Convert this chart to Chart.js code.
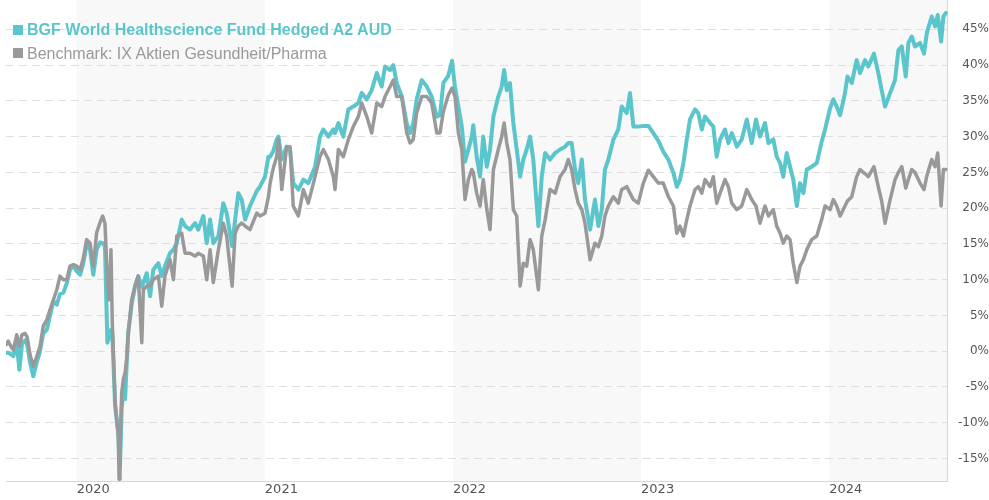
<!DOCTYPE html>
<html>
<head>
<meta charset="utf-8">
<script src="https://cdn.jsdelivr.net/npm/chart.js@4.4.1/dist/chart.umd.min.js"></script>
<style>
  html, body { margin: 0; padding: 0; background: #fff; }
  #wrap { position: relative; width: 989px; height: 500px; overflow: hidden; }
  #legend { position: absolute; left: 13px; top: 18px; font-family: "Liberation Sans", Arial, sans-serif; font-size: 16px; line-height: 23.5px; }
  .item { display: flex; align-items: center; white-space: nowrap; }
  .sq { display: inline-block; width: 10px; height: 10px; margin-right: 4px; }
</style>
</head>
<body>
<div id="wrap">
  <canvas id="chart"></canvas>
  <div id="legend">
    <div class="item" style="color:#5bc5cc;font-weight:bold"><span class="sq" style="background:#5bc5cc"></span>BGF World Healthscience Fund Hedged A2 AUD</div>
    <div class="item" style="color:#999"><span class="sq" style="background:#999"></span>Benchmark: IX Aktien Gesundheit/Pharma</div>
  </div>
</div>
<script>
// time axis in decimal years, values in % performance
const years = [
  2019.624, 2019.636, 2019.654, 2019.663, 2019.681, 2019.695, 2019.709, 2019.725, 2019.736, 2019.752,
  2019.769, 2019.787, 2019.805, 2019.822, 2019.841, 2019.858, 2019.876, 2019.894, 2019.911, 2019.929,
  2019.947, 2019.964, 2019.982, 2020.000, 2020.018, 2020.035, 2020.053, 2020.071, 2020.088, 2020.106,
  2020.124, 2020.138, 2020.150, 2020.163, 2020.173, 2020.182, 2020.189, 2020.204, 2020.221, 2020.225,
  2020.230, 2020.239, 2020.248, 2020.257, 2020.266, 2020.274, 2020.292, 2020.310, 2020.327, 2020.346,
  2020.354, 2020.372, 2020.390, 2020.407, 2020.434, 2020.452, 2020.469, 2020.496, 2020.514, 2020.532,
  2020.558, 2020.576, 2020.602, 2020.629, 2020.646, 2020.673, 2020.691, 2020.709, 2020.726, 2020.753,
  2020.779, 2020.797, 2020.826, 2020.842, 2020.859, 2020.877, 2020.895, 2020.921, 2020.957, 2020.974,
  2021.001, 2021.019, 2021.028, 2021.045, 2021.063, 2021.072, 2021.090, 2021.116, 2021.134, 2021.151,
  2021.178, 2021.205, 2021.231, 2021.267, 2021.293, 2021.311, 2021.338, 2021.364, 2021.373, 2021.391,
  2021.417, 2021.444, 2021.470, 2021.497, 2021.515, 2021.542, 2021.568, 2021.595, 2021.621, 2021.639,
  2021.666, 2021.683, 2021.701, 2021.728, 2021.754, 2021.772, 2021.789, 2021.807, 2021.834, 2021.861,
  2021.887, 2021.914, 2021.931, 2021.949, 2021.975, 2021.995, 2022.011, 2022.029, 2022.047, 2022.064,
  2022.082, 2022.100, 2022.108, 2022.126, 2022.144, 2022.161, 2022.180, 2022.197, 2022.215, 2022.241,
  2022.259, 2022.272, 2022.286, 2022.303, 2022.321, 2022.339, 2022.357, 2022.374, 2022.392, 2022.410,
  2022.427, 2022.454, 2022.472, 2022.490, 2022.516, 2022.543, 2022.569, 2022.596, 2022.613, 2022.631,
  2022.649, 2022.666, 2022.685, 2022.702, 2022.729, 2022.755, 2022.773, 2022.791, 2022.808, 2022.826,
  2022.853, 2022.879, 2022.897, 2022.924, 2022.941, 2022.959, 2022.985, 2023.012, 2023.039, 2023.065,
  2023.092, 2023.118, 2023.145, 2023.172, 2023.190, 2023.207, 2023.225, 2023.243, 2023.260, 2023.287,
  2023.304, 2023.323, 2023.340, 2023.367, 2023.384, 2023.402, 2023.420, 2023.446, 2023.464, 2023.482,
  2023.509, 2023.535, 2023.562, 2023.588, 2023.611, 2023.632, 2023.659, 2023.677, 2023.703, 2023.721,
  2023.739, 2023.756, 2023.774, 2023.792, 2023.809, 2023.828, 2023.845, 2023.863, 2023.881, 2023.907,
  2023.934, 2023.960, 2023.978, 2024.005, 2024.022, 2024.040, 2024.058, 2024.084, 2024.097, 2024.120,
  2024.146, 2024.164, 2024.191, 2024.208, 2024.238, 2024.261, 2024.279, 2024.297, 2024.324, 2024.350,
  2024.368, 2024.386, 2024.407, 2024.421, 2024.439, 2024.456, 2024.483, 2024.504, 2024.519, 2024.545,
  2024.563, 2024.577, 2024.595, 2024.607, 2024.621
];

const fundValues = [
  -0.2, -0.2, -0.5, -0.7, 1.2, -2.6, 1.0, 1.5, 1.0, -1.6,
  -3.5, -1.6, 0.0, 2.5, 3.0, 5.0, 7.0, 6.5, 8.0, 8.2,
  9.5, 11.4, 11.9, 11.2, 10.7, 12.3, 15.0, 14.2, 10.7, 14.2,
  15.2, 15.1, 14.7, 1.2, 2.0, 3.0, 2.6, -7.7, -11.4, -14.0,
  -16.1, -8.0, -5.5, -6.7, -1.6, 2.6, 6.5, 9.1, 10.5, 9.0,
  9.5, 10.9, 7.7, 11.4, 12.3, 10.5, 11.9, 13.7, 14.2, 15.1,
  18.4, 17.5, 17.0, 17.9, 17.0, 18.9, 15.1, 18.4, 15.1, 16.1,
  20.7, 19.3, 14.7, 18.4, 22.1, 21.2, 18.4, 20.3, 22.4, 23.0,
  24.4, 27.2, 27.2, 28.0, 29.6, 30.0, 26.8, 28.6, 28.2, 23.5,
  22.6, 24.0, 23.5, 25.8, 30.0, 31.0, 30.0, 31.0, 30.5, 31.9,
  30.0, 33.8, 34.2, 34.7, 36.1, 35.2, 36.5, 38.9, 37.0, 39.8,
  39.3, 40.0, 37.5, 35.6, 31.9, 30.5, 31.9, 35.2, 37.9, 37.0,
  35.6, 32.8, 33.0, 37.5, 38.5, 40.6, 36.8, 34.2, 31.4, 26.5,
  28.2, 30.0, 31.6, 27.2, 24.4, 30.0, 25.8, 28.2, 32.8, 35.6,
  37.0, 39.3, 36.5, 37.5, 31.9, 28.2, 24.4, 26.8, 28.2, 30.0,
  26.8, 17.5, 24.4, 27.7, 26.8, 27.7, 28.2, 28.6, 29.1, 29.1,
  25.4, 23.5, 26.8, 21.2, 17.0, 21.2, 17.5, 19.8, 25.4, 26.8,
  29.6, 31.0, 34.2, 33.3, 36.1, 31.4, 31.4, 31.5, 31.5, 30.5,
  29.4, 27.9, 26.8, 24.9, 23.0, 24.0, 26.3, 29.6, 32.4, 33.8,
  33.3, 31.0, 32.8, 31.9, 31.4, 27.2, 29.6, 31.0, 29.1, 30.5,
  28.6, 29.6, 32.4, 29.1, 32.4, 30.0, 31.9, 29.1, 29.6, 27.2,
  26.3, 24.4, 27.7, 25.8, 24.0, 20.3, 23.5, 22.1, 25.4, 25.8,
  26.3, 29.3, 31.0, 34.0, 35.2, 34.2, 33.0, 36.1, 38.4, 37.5,
  40.7, 38.9, 40.7, 39.8, 41.6, 38.9, 36.5, 34.2, 36.1, 37.9,
  42.1, 42.6, 38.4, 43.1, 44.0, 42.6, 43.1, 41.6, 44.5, 46.8,
  45.4, 47.0, 43.3, 46.8, 47.3
];

const benchValues = [
  0.9, 1.4, 0.5, 0.2, 2.3, 0.7, 2.3, 2.5, 2.0, -0.5,
  -2.1, -0.8, 0.7, 3.5, 4.4, 5.8, 7.2, 8.6, 10.5, 10.0,
  10.0, 11.9, 12.1, 11.9, 11.4, 13.0, 15.6, 15.1, 11.9, 16.6,
  18.0, 18.9, 17.9, 10.0, 7.2, 14.2, 4.0, -7.0, -12.0, -17.9,
  -14.0, -5.8, -3.9, -3.0, -1.0, 2.6, 7.2, 9.1, 10.5, 1.2,
  8.6, 9.1, 9.1, 10.0, 10.5, 6.3, 10.5, 12.8, 10.0, 16.1,
  16.5, 13.7, 13.7, 13.3, 13.7, 13.3, 10.0, 14.2, 9.6, 14.2,
  17.9, 16.1, 9.1, 16.5, 17.5, 17.9, 17.5, 17.0, 19.3, 18.9,
  19.3, 21.6, 23.5, 25.6, 27.2, 29.6, 22.6, 28.6, 28.6, 20.3,
  18.9, 22.6, 20.7, 24.4, 27.2, 28.2, 26.8, 24.4, 22.6, 28.2,
  27.2, 29.6, 31.4, 32.8, 34.7, 32.8, 30.5, 34.7, 34.2, 35.6,
  37.0, 37.9, 35.6, 35.6, 30.5, 29.1, 29.6, 33.3, 35.6, 35.6,
  34.7, 30.5, 30.5, 33.5, 35.8, 36.8, 35.6, 30.5, 28.2, 21.2,
  24.0, 25.4, 25.0, 22.1, 20.3, 24.0, 19.8, 17.0, 25.4, 28.2,
  30.0, 31.9, 29.1, 26.8, 19.8, 18.9, 9.1, 12.3, 11.9, 15.6,
  14.2, 8.6, 16.1, 18.4, 22.6, 22.1, 24.4, 25.4, 26.8, 25.4,
  22.6, 20.7, 19.8, 17.9, 12.8, 15.1, 14.6, 16.1, 18.9, 20.3,
  21.6, 20.7, 22.6, 23.0, 22.1, 21.2, 20.7, 23.5, 25.3, 24.4,
  23.5, 23.5, 21.6, 20.3, 16.5, 17.5, 16.1, 18.4, 20.3, 22.6,
  23.0, 22.1, 24.0, 23.0, 24.4, 20.7, 22.1, 24.0, 23.0, 20.7,
  19.8, 20.3, 22.6, 21.2, 20.3, 17.9, 20.3, 18.9, 19.8, 17.5,
  16.5, 15.1, 16.1, 15.6, 12.3, 9.6, 11.9, 12.8, 14.2, 15.6,
  16.1, 18.4, 20.3, 19.8, 21.2, 20.3, 18.9, 20.3, 21.0, 21.6,
  24.4, 25.4, 24.8, 24.4, 25.8, 23.0, 21.0, 17.9, 21.2, 24.0,
  25.0, 25.8, 22.8, 24.0, 25.4, 25.0, 23.5, 22.6, 24.5, 26.8,
  25.8, 27.7, 20.3, 25.4, 25.4
];

const yearTicks = [2020, 2021, 2022, 2023, 2024];
const percentTicks = [-15, -10, -5, 0, 5, 10, 15, 20, 25, 30, 35, 40, 45];
const shadedYears = [2020, 2022, 2024];

function toPoints(vals) {
  const n = Math.min(years.length, vals.length);
  const pts = [];
  for (let i = 0; i < n; i++) pts.push({ x: years[i], y: vals[i] });
  return pts;
}

// light grey background for every second year
const yearBands = {
  id: 'yearBands',
  beforeDraw(chart) {
    const { ctx, chartArea, scales } = chart;
    const x = scales.x;
    ctx.save();
    ctx.fillStyle = '#f8f8f8';
    shadedYears.forEach(function (yr) {
      const x0 = Math.max(x.getPixelForValue(yr), chartArea.left);
      const x1 = Math.min(x.getPixelForValue(yr + 1), chartArea.right);
      if (x1 > x0) ctx.fillRect(x0, chartArea.top, x1 - x0, chartArea.bottom - chartArea.top);
    });
    ctx.restore();
  }
};

new Chart(document.getElementById('chart'), {
  type: 'line',
  data: {
    datasets: [{
        label: 'BGF World Healthscience Fund Hedged A2 AUD',
        data: toPoints(fundValues),
        borderColor: '#5bc5cc',
        borderWidth: 4,
        order: 2
      }, {
        label: 'Benchmark: IX Aktien Gesundheit/Pharma',
        data: toPoints(benchValues),
        borderColor: '#999999',
        borderWidth: 3.5,
        order: 1
      }]
  },
  options: {
    animation: false,
    responsive: true,
    maintainAspectRatio: false,
    layout: {
      padding: { left: 6, right: 0, top: 0, bottom: 3 }
    },
    elements: {
      point: { radius: 0 },
      line: { tension: 0, borderJoinStyle: 'round', borderCapStyle: 'round' }
    },
    plugins: {
      legend: { display: false },
      tooltip: { enabled: false }
    },
    scales: {
      x: {
        type: 'linear',
        min: 2019.624,
        max: 2024.630,
        afterBuildTicks: function (scale) {
          scale.ticks = yearTicks.map(v => ({ value: v }));
        },
        grid: { display: false, drawTicks: false },
        border: { display: true, color: '#d6d6d6', width: 1 },
        ticks: {
          padding: 0,
          align: 'start',
          maxRotation: 0,
          autoSkip: false,
          color: '#555',
          font: { family: 'DejaVu Sans', size: 13 },
          callback: v => String(v)
        }
      },
      y: {
        position: 'right',
        min: -18.2,
        max: 49.1,
        afterBuildTicks: function (scale) {
          scale.ticks = percentTicks.map(v => ({ value: v }));
        },
        afterFit: function (scale) {
          scale.width = 41.3;
          scale.paddingTop = 0;
          scale.paddingBottom = 0;
        },
        grid: { color: '#dedede', lineWidth: 1, drawTicks: false },
        border: { display: true, color: '#d6d6d6', width: 1, dash: [8, 5] },
        ticks: {
          padding: 10,
          crossAlign: 'far',
          color: '#555',
          font: { family: 'DejaVu Sans', size: 12 },
          callback: v => v + '%'
        }
      }
    }
  },
  plugins: [yearBands]
});
</script>
</body>
</html>
